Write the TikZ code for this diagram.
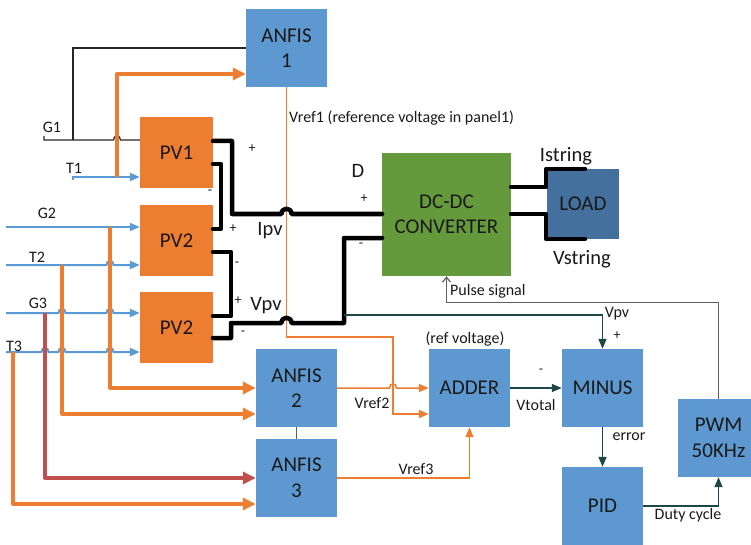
\documentclass[tikz,border=0pt]{standalone}
\usepackage{fontspec}
\setmainfont{Carlito}
\usetikzlibrary{arrows.meta,calc}

\definecolor{boxblue}{RGB}{93,153,208}
\definecolor{pvorange}{RGB}{237,125,49}
\definecolor{convgreen}{RGB}{101,154,60}
\definecolor{loadblue}{RGB}{68,112,158}
\definecolor{wireblue}{RGB}{91,155,213}
\definecolor{wirered}{RGB}{192,80,77}
\definecolor{sigteal}{RGB}{30,72,70}
\definecolor{pulsegray}{RGB}{95,95,95}

\begin{document}
\begin{tikzpicture}[x=1pt,y=-1pt,
  blk/.style={fill=boxblue,minimum width=81pt,minimum height=78pt,inner sep=0pt,
              align=center,font=\fontsize{21}{25.5}\selectfont,text=black!90},
  pvbox/.style={blk,fill=pvorange,minimum width=73pt,minimum height=71pt},
  lbl/.style={font=\fontsize{16}{19}\selectfont,inner sep=0pt,text=black!90},
  big/.style={font=\fontsize{20.5}{24}\selectfont,inner sep=0pt,text=black!90},
  sgn/.style={font=\fontsize{14}{16}\selectfont,inner sep=0pt,text=black!90},
  thinK/.style={draw=black!85,line width=1.2pt},
  powerK/.style={draw=black,line width=4.5pt,line join=round,line cap=round},
  sensB/.style={draw=wireblue,line width=2pt,-{Triangle[length=10pt,width=8pt]}},
  feedO/.style={draw=pvorange,line width=3.3pt,line join=round,-{Triangle[length=13pt,width=12pt]}},
  feedR/.style={feedO,draw=wirered,-{Triangle[length=13pt,width=12pt]}},
  refO/.style={draw=pvorange,line width=1.5pt,-{Triangle[length=10pt,width=8pt]}},
  sig/.style={draw=sigteal,line width=1.5pt,-{Triangle[length=10pt,width=8pt]}},
  pulse/.style={draw=pulsegray,line width=1.2pt,-{Straight Barb[length=5pt,width=8pt]}},
  hopat/.style 2 args={insert path={-- (#1-3.5,#2) .. controls (#1-3.5,#2-5.5) and (#1+3.5,#2-5.5) .. (#1+3.5,#2)}},
  bighop/.style 2 args={insert path={-- (#1-5,#2) .. controls (#1-5,#2-7) and (#1+5,#2-7) .. (#1+5,#2)}}
]
\useasboundingbox (0,0) rectangle (751,545);

% ---------- blocks ----------
\node[blk] (anfis1) at (286.5,48) {ANFIS\\1};
\node[pvbox] (pv1) at (176.5,153) {PV1};
\node[pvbox] (pv2a) at (176.5,240.5) {PV2};
\node[pvbox] (pv2b) at (176.5,327.5) {PV2};
\node[blk,fill=convgreen,minimum width=129pt,minimum height=123pt] (dcdc) at (446.5,214.5) {DC-DC\\CONVERTER};
\node[blk,fill=loadblue,minimum width=72pt,minimum height=70pt] (load) at (583,204) {LOAD};
\node[blk] (anfis2) at (296.5,388) {ANFIS\\2};
\node[blk] (anfis3) at (296.5,478) {ANFIS\\3};
\node[blk] (adder) at (469.5,388) {ADDER};
\node[blk] (minus) at (602.5,388) {MINUS};
\node[blk] (pid) at (602.5,506) {PID};
\node[blk] (pwm) at (718.5,438) {PWM\\50KHz};

% ---------- wire start points and taps ----------
\coordinate (g1s) at (44,140);
\coordinate (g1b) at (73,140);
\coordinate (t1s) at (73,177);
\coordinate (t1o) at (117,177);
\coordinate (g2s) at (6,227);
\coordinate (g2o) at (110,227);
\coordinate (t2s) at (6,265);
\coordinate (t2o) at (62,265);
\coordinate (g3s) at (6,313);
\coordinate (g3r) at (45,313);
\coordinate (t3s) at (6,352);
\coordinate (t3o) at (13,352);

% PV terminals
\coordinate (pv1p) at (213,141);
\coordinate (pv1m) at (213,164);
\coordinate (pv2ap) at (213,229);
\coordinate (pv2am) at (213,252);
\coordinate (pv2bp) at (213,316);
\coordinate (pv2bm) at (213,338);
% converter terminals
\coordinate (dcinp) at (382,214);
\coordinate (dcinm) at (382,238);
\coordinate (dcoutp) at (511,187);
\coordinate (dcoutm) at (511,214);
\coordinate (loadp) at (585,169);
\coordinate (loadm) at (585,239);
\coordinate (vpvtap) at (344,315);
\coordinate (vr1k) at (393,337);

% ---------- sensor inputs (irradiance / temperature) ----------
\draw[thinK] ($(g1s)+(0,-4)$) -- (g1s) [hopat={117}{140}] -- (pv1.west |- g1s);
\draw[thinK] (g1b) |- (anfis1.west);
\draw[sensB] ($(t1s)+(0,3)$) -- (t1s) -- (pv1.west |- t1s);
\draw[feedO] (t1o) |- ($(anfis1.west)+(0,26)$);

\draw[sensB] (g2s) -- (pv2a.west |- g2s);
\draw[sensB] (t2s) [hopat={110}{265}] -- (pv2a.west |- t2s);
\draw[sensB] (g3s) [hopat={62}{313}] [hopat={110}{313}] -- (pv2b.west |- g3s);
\draw[sensB] (t3s) [hopat={45}{352}] [hopat={62}{352}] [hopat={110}{352}] -- (pv2b.west |- t3s);

\draw[feedO] (g2o) |- (anfis2.west);
\draw[feedO] (t2o) |- ($(anfis2.west)+(0,26)$);
\draw[feedR] (g3r) |- (anfis3.west);
\draw[feedO] (t3o) |- ($(anfis3.west)+(0,26)$);

% ---------- reference voltages ----------
\draw[refO] (anfis1.south) |- (vr1k) |- ($(adder.west)+(0,26)$);
\draw[refO] (anfis2.east) [hopat={393}{388}] -- (adder.west);
\draw[refO] (anfis3.east) -| (adder.south);
\draw[draw=pulsegray,line width=1.8pt] (anfis2.south) -- (anfis3.north);

% ---------- power wiring ----------
\draw[powerK] (pv1p) -| (232,214) [bighop={286.5}{214}] -- (dcinp);
\draw[powerK] (pv1m) -- (221,164) |- (pv2ap);
\draw[powerK] (pv2am) -- (231,252) |- (pv2bp);
\draw[powerK] (pv2bm) -- (231,338) |- (231,323) [bighop={286.5}{323}] -| (344,238) -- (dcinm);
\draw[powerK] (dcoutp) -- (546,187) |- (loadp);
\draw[powerK] (dcoutm) -- (546,214) |- (loadm);

% ---------- control loop ----------
\draw[sig] (vpvtap) -| (minus.north);
\draw[sig] (adder.east) -- (minus.west);
\draw[sig] (minus.south) -- (pid.north);
\draw[sig] (pid.east) -| (pwm.south);
\draw[pulse] (pwm.north) |- ($(dcdc.south)+(0,26)$) -- (dcdc.south);

% ---------- labels ----------
\node[lbl,anchor=west] (lvref1) at (289,118) {Vref1 (reference voltage in panel1)};
\node[lbl] (lg1) at (52,127) {G1};
\node[lbl] (lt1) at (74,168) {T1};
\node[lbl] (lg2) at (47,213) {G2};
\node[lbl] (lt2) at (37,257) {T2};
\node[lbl] (lg3) at (38,303) {G3};
\node[lbl] (lt3) at (14,346) {T3};

\node[sgn] (s1) at (252,149) {+};
\node[sgn] (s2) at (210,192) {-};
\node[sgn] (s3) at (233,229) {+};
\node[big] (lipv) at (270,231) {Ipv};
\node[sgn] (s4) at (237,264) {-};
\node[sgn] (s5) at (238,301) {+};
\node[big] (lvpv) at (266,306) {Vpv};
\node[sgn] (s6) at (243,333) {-};

\node[big] (ld) at (358,171) {D};
\node[sgn] (s7) at (364,199) {+};
\node[sgn] (s8) at (361,245) {-};
\node[big] (listr) at (566,156) {Istring};
\node[big] (lvstr) at (582,259) {Vstring};

\node[lbl,anchor=west] (lpulse) at (450,291) {Pulse signal};
\node[lbl] (lvpv2) at (617,314) {Vpv};
\node[sgn] (s9) at (617,336) {+};
\node[lbl] (lrefv) at (465,339) {(ref voltage)};
\node[sgn] (s10) at (541,371) {-};
\node[lbl] (lvtot) at (536,405) {Vtotal};
\node[lbl] (lvref2) at (372,403) {Vref2};
\node[lbl] (lvref3) at (416,469) {Vref3};
\node[lbl] (lerr) at (629,437) {error};
\node[lbl] (lduty) at (688,515) {Duty cycle};
\end{tikzpicture}
\end{document}
